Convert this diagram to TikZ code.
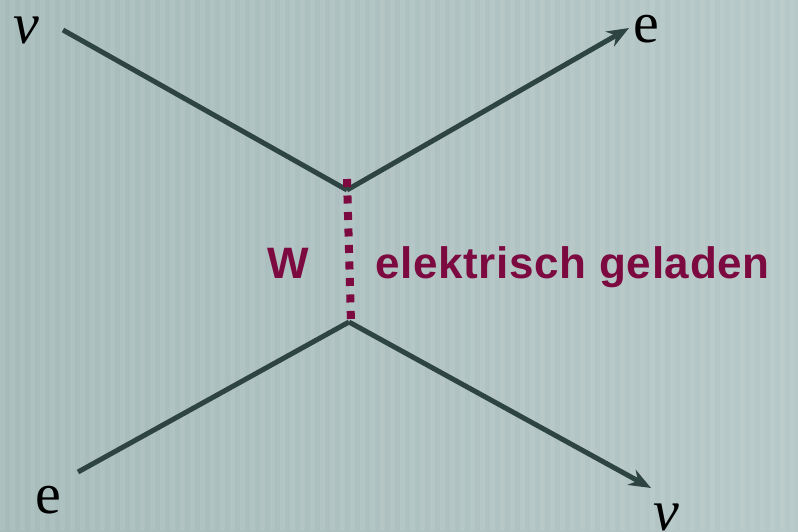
\documentclass[tikz,border=0pt]{standalone}
\usepackage{fontspec}
\setmainfont{Liberation Serif}
\newfontfamily\chargefont[LetterSpace=1.5]{Liberation Sans}
\usetikzlibrary{arrows.meta}
\definecolor{bgdark}{HTML}{A6BBBA}
\definecolor{bglight}{HTML}{B6C8C7}
\definecolor{fermion}{HTML}{2E4443}
\definecolor{boson}{HTML}{7C0A40}
\begin{document}
\begin{tikzpicture}[
    x=1pt, y=-1pt,
    >={Stealth[length=22pt, width=17pt]},
    particle/.style={font=\fontsize{58}{60}\selectfont, inner sep=0pt, text height=0.45em, text depth=0pt, anchor=base},
    leg/.style={line width=5pt, draw=fermion},
    wline/.style={line width=8pt, draw=boson, dash pattern=on 8pt off 8.5pt},
    charge/.style={font=\chargefont\bfseries\fontsize{44}{46}\selectfont, text=boson, inner sep=0pt, anchor=base west}
]
  % background with faint vertical stripes
  \useasboundingbox (0,0) rectangle (798,531);
  \shade[left color=bgdark, right color=bglight] (0,0) rectangle (798,531);
  \foreach \x in {0,10,...,790}
    \fill[white, opacity=0.08] (\x,0) rectangle ++(5,531);

  % vertices and free line ends
  \coordinate (vtop) at (347,190);
  \coordinate (vbot) at (349,322);
  \coordinate (nuinend) at (63,30);
  \coordinate (eoutend) at (629,28);
  \coordinate (einend) at (78,472);
  \coordinate (nuoutend) at (651,488);

  % particle labels
  \node[particle] (nuin) at (26,43) {\itshape ν};
  \node[particle] (eout) at (646,42) {e};
  \node[particle] (ein) at (48,513) {e};
  \node[particle] (nuout) at (666,530) {\itshape ν};

  % fermion legs
  \draw[leg] (nuinend) -- (vtop);
  \draw[leg, ->] (vtop) -- (eoutend);
  \draw[leg] (einend) -- (vbot);
  \draw[leg, ->] (vbot) -- (nuoutend);

  % exchanged boson
  \draw[wline] ([yshift=11pt]vtop) -- ([xshift=2pt]vbot);
  \node[charge] (wlabel) at (267,278) {W};
  \node[charge] (elabel) at (375,278) {elektrisch geladen};
\end{tikzpicture}
\end{document}
